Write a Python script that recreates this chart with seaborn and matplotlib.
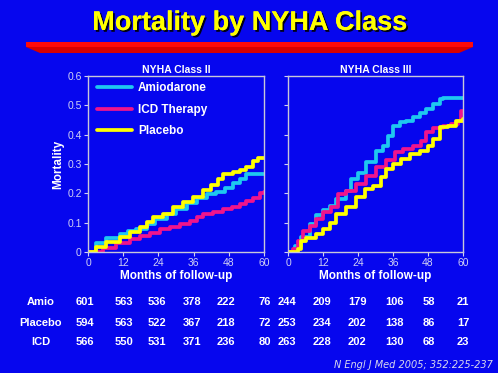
import numpy as np
import pandas as pd
import matplotlib
matplotlib.use("Agg")
import matplotlib.pyplot as plt
import seaborn as sns
from matplotlib import patches, patheffects

sns.set_theme(style="white")
plt.rcParams['font.family'] = ['Liberation Sans', 'DejaVu Sans']

# ---------------- data ----------------
title = "Mortality by NYHA Class"
panel_titles = ["NYHA Class II", "NYHA Class III"]
series_names = ["Amiodarone", "ICD Therapy", "Placebo"]

c2_amio_m = [0, 2.8, 6.3, 10.8, 13.7, 16.5, 20, 23, 26.8, 30, 33.6, 37, 40.4, 43.8, 46.7, 49.5, 51.8, 54, 60]
c2_amio_v = [0, 0.03, 0.048, 0.06, 0.07, 0.08, 0.097, 0.114, 0.128, 0.148, 0.166, 0.183, 0.197, 0.206, 0.217, 0.234, 0.25, 0.265, 0.265]
c2_icd_m = [0, 1.7, 5, 9.7, 14.2, 17.6, 21, 24.5, 27.9, 31.3, 34.7, 37, 39.3, 42.7, 46.1, 49, 51.8, 54, 56.4, 58.7, 60]
c2_icd_v = [0, 0, 0.014, 0.029, 0.043, 0.054, 0.066, 0.078, 0.086, 0.095, 0.107, 0.12, 0.128, 0.135, 0.146, 0.155, 0.162, 0.174, 0.185, 0.2, 0.206]
c2_plac_m = [0, 2.8, 6.3, 10.8, 14.2, 17.6, 20, 22.2, 25.6, 29, 32.5, 35.9, 39.3, 42, 44.4, 46, 49.5, 51.8, 54, 56.4, 58, 60]
c2_plac_v = [0, 0.017, 0.034, 0.051, 0.069, 0.086, 0.103, 0.118, 0.13, 0.152, 0.171, 0.189, 0.211, 0.229, 0.249, 0.265, 0.272, 0.28, 0.291, 0.309, 0.32, 0.322]

c3_amio_m = [0, 0.6, 2.3, 4.6, 7.4, 9.7, 12, 14.3, 16.6, 20, 21.7, 24, 26.9, 30.3, 32.6, 34.3, 36, 38.3, 40.6, 42.9, 45.1, 47.4, 49.7, 52, 53.1, 60]
c3_amio_v = [0, 0, 0.02, 0.05, 0.095, 0.125, 0.144, 0.157, 0.18, 0.209, 0.249, 0.271, 0.306, 0.346, 0.363, 0.397, 0.431, 0.443, 0.448, 0.46, 0.475, 0.488, 0.505, 0.522, 0.526, 0.526]
c3_icd_m = [0, 1.7, 3.4, 5.1, 7.4, 9.7, 12, 14.9, 17.1, 20, 23.4, 26.9, 30.3, 33.7, 36.6, 39.4, 42.9, 45.7, 47.4, 49.7, 53.1, 56, 58.3, 59.4, 60]
c3_icd_v = [0, 0.01, 0.038, 0.072, 0.089, 0.112, 0.135, 0.152, 0.197, 0.209, 0.232, 0.26, 0.289, 0.315, 0.34, 0.351, 0.36, 0.38, 0.408, 0.422, 0.429, 0.437, 0.448, 0.482, 0.482]
c3_plac_m = [0, 3.4, 4.6, 6.3, 9.7, 12, 14.3, 16.6, 20, 23.4, 26.3, 29.1, 32, 33.7, 36, 38.9, 41.7, 45.1, 48, 49.7, 52, 54.9, 57.7, 60]
c3_plac_v = [0, 0.009, 0.038, 0.049, 0.06, 0.078, 0.1, 0.129, 0.152, 0.186, 0.214, 0.226, 0.254, 0.283, 0.3, 0.317, 0.334, 0.346, 0.363, 0.386, 0.425, 0.431, 0.448, 0.454]

table_rows = ["Amio", "Placebo", "ICD"]
table_amio = ["601", "563", "536", "378", "222", "76", "244", "209", "179", "106", "58", "21"]
table_plac = ["594", "563", "522", "367", "218", "72", "253", "234", "202", "138", "86", "17"]
table_icd = ["566", "550", "531", "371", "236", "80", "263", "228", "202", "130", "68", "23"]
citation = "N Engl J Med 2005; 352:225-237"

x_ticks = [0, 12, 24, 36, 48, 60]
y_ticks = [0, 0.1, 0.2, 0.3, 0.4, 0.5, 0.6]
y_tick_labels = ["0", "0.1", "0.2", "0.3", "0.4", "0.5", "0.6"]

# ---------------- style ----------------
BG = "#0606EE"
FRAME = "#C8C8D8"
TICKC = "#D0D0F4"
palette = {"Amiodarone": "#1EC8F0", "ICD Therapy": "#F0148C", "Placebo": "#FFFF00"}

W, H = 498, 373
fig = plt.figure(figsize=(W / 100, H / 100), dpi=100, facecolor=BG)

def px_axes(x0, y0, x1, y1):
    return fig.add_axes([x0 / W, 1 - y1 / H, (x1 - x0) / W, (y1 - y0) / H])

ax1 = px_axes(88, 76, 264, 252)
ax2 = px_axes(288, 76, 463, 252)

def long_df(m_lists, v_lists):
    frames = []
    for name, m, v in zip(series_names, m_lists, v_lists):
        frames.append(pd.DataFrame({"month": m, "mortality": v, "group": name}))
    return pd.concat(frames, ignore_index=True)

df2 = long_df([c2_amio_m, c2_icd_m, c2_plac_m], [c2_amio_v, c2_icd_v, c2_plac_v])
df3 = long_df([c3_amio_m, c3_icd_m, c3_plac_m], [c3_amio_v, c3_icd_v, c3_plac_v])

LW = 2.7
for ax, df, ptitle in [(ax1, df2, panel_titles[0]), (ax2, df3, panel_titles[1])]:
    ax.set_facecolor(BG)
    sns.lineplot(data=df, x="month", y="mortality", hue="group", hue_order=series_names,
                 palette=palette, ax=ax, drawstyle="steps-post", linewidth=LW,
                 estimator=None, sort=False, legend=(ax is ax1))
    ax.set_xlim(0, 60)
    ax.set_ylim(0, 0.6)
    ax.set_xticks(x_ticks)
    ax.set_xticklabels([str(t) for t in x_ticks])
    ax.set_yticks(y_ticks)
    for s in ax.spines.values():
        s.set_color(FRAME)
        s.set_linewidth(1.0)
    ax.tick_params(axis="both", colors=TICKC, labelcolor=TICKC, labelsize=7.5,
                   length=3, width=0.8, direction="out", pad=1.5,
                   left=True, bottom=True)
    ax.set_xlabel("Months of follow-up", color="white", fontweight="bold", fontsize=8.5, labelpad=1)
    ax.set_title(ptitle, color="white", fontweight="bold", fontsize=7.5, pad=2)
    ax.grid(False)

ax1.set_yticklabels(y_tick_labels)
ax1.set_ylabel("Mortality", color="white", fontweight="bold", fontsize=8.5, labelpad=2)
ax2.set_yticklabels([])
ax2.set_ylabel("")

leg = ax1.legend(loc="upper left", frameon=False, fontsize=8.5, handlelength=3.0,
                 handletextpad=0.5, labelspacing=0.8, borderaxespad=0.2,
                 bbox_to_anchor=(0.01, 1.005))
for t in leg.get_texts():
    t.set_color("white")
    t.set_fontweight("bold")
for h in leg.get_lines():
    h.set_linewidth(LW)

# title with shadow
fig.text(250 / W, 1 - 23 / H, title, ha="center", va="center", fontsize=19.5,
         fontweight="bold", color="#FFFF00",
         path_effects=[patheffects.withSimplePatchShadow(offset=(1.3, -1.3), shadow_rgbFace="black", alpha=0.9),
                       patheffects.Normal()])

# red bar
def fp(x, y):
    return (x / W, 1 - y / H)
bar_top = patches.Polygon([fp(26, 42), fp(473, 42), fp(473, 47), fp(26, 47)],
                          closed=True, transform=fig.transFigure, facecolor="#FF0A0A", edgecolor="none")
bar_bot = patches.Polygon([fp(26, 47), fp(473, 47), fp(459, 53), fp(40, 53)],
                          closed=True, transform=fig.transFigure, facecolor="#D80000", edgecolor="none")
fig.patches.extend([bar_top, bar_bot])

# at-risk table
col_x = [85, 124, 157, 192, 226, 265, 287, 322, 357, 394, 429, 463]
row_y = [302, 323, 342]
narrow = ['Liberation Sans Narrow', 'Liberation Sans', 'DejaVu Sans']
for lab, vals, y in zip(table_rows, [table_amio, table_plac, table_icd], row_y):
    fig.text(41 / W, 1 - y / H, lab, ha="center", va="center", fontsize=8,
             fontweight="bold", color="white", family=narrow)
    for x, v in zip(col_x, vals):
        fig.text(x / W, 1 - y / H, v, ha="center", va="center", fontsize=8,
                 fontweight="bold", color="white", family=narrow)

fig.text(493 / W, 1 - 365 / H, citation, ha="right", va="center", fontsize=7,
         style="italic", color="#D8D8EC", family=['DejaVu Sans'])

fig.savefig("out.png", dpi=100, facecolor=BG)
